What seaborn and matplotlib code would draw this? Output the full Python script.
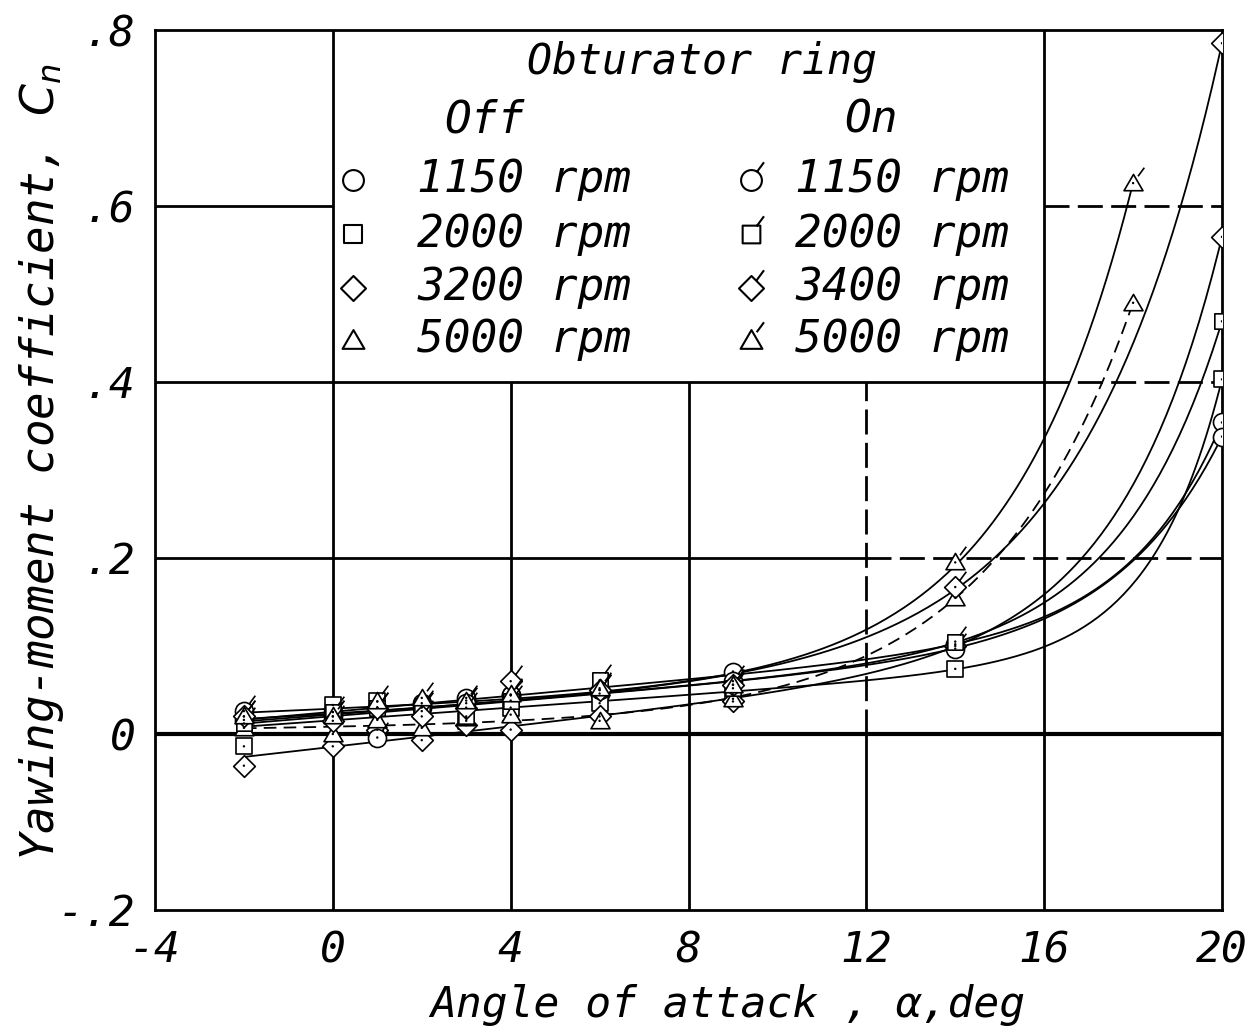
import numpy as np
import seaborn as sns
import matplotlib.pyplot as plt
from matplotlib.path import Path

# angle of attack, deg (5000 rpm runs stop at 18 deg)
alpha = [-2, 0, 1, 2, 3, 4, 6, 9, 14, 20]
alpha_5000 = [-2, 0, 1, 2, 3, 4, 6, 9, 14, 18]

# yawing-moment coefficient, obturator ring off
cn_off_1150 = [0.016, 0.025, 0.030, 0.035, 0.041, 0.044, 0.046, 0.071, 0.102, 0.354]
cn_off_2000 = [-0.014, 0.033, 0.037, 0.026, 0.015, 0.030, 0.035, 0.045, 0.074, 0.403]
cn_off_3200 = [-0.036, -0.014, 0.005, -0.007, 0.010, 0.005, 0.020, 0.037, 0.100, 0.565]
cn_off_5000 = [0.007, 0.000, 0.016, 0.007, 0.018, 0.022, 0.015, 0.040, 0.155, 0.490]

# obturator ring on
cn_on_1150 = [0.026, 0.020, -0.004, 0.030, 0.035, 0.044, 0.050, 0.060, 0.097, 0.338]
cn_on_2000 = [0.012, 0.025, 0.030, 0.032, 0.020, 0.038, 0.061, 0.052, 0.105, 0.469]
cn_on_3400 = [0.020, 0.015, 0.030, 0.020, 0.030, 0.060, 0.050, 0.056, 0.167, 0.785]
cn_on_5000 = [0.020, 0.020, 0.037, 0.041, 0.038, 0.045, 0.052, 0.056, 0.195, 0.626]

rpm_labels = ['1150 rpm', '2000 rpm', '3200 rpm', '5000 rpm']
rpm_labels_on = ['1150 rpm', '2000 rpm', '3400 rpm', '5000 rpm']

sns.set_style('white')
# lettering-guide look: evenly spaced oblique letters
plt.rcParams['font.family'] = ['DejaVu Sans Mono']
plt.rcParams['font.style'] = 'italic'
plt.rcParams['mathtext.fontset'] = 'dejavusans'
plt.rcParams['text.color'] = 'black'
plt.rcParams['axes.labelcolor'] = 'black'


# marker shapes (unit = marker "radius")
circle = Path.unit_circle()
square = Path([(-0.85, -0.85), (0.85, -0.85), (0.85, 0.85), (-0.85, 0.85), (0, 0)],
              [Path.MOVETO, Path.LINETO, Path.LINETO, Path.LINETO, Path.CLOSEPOLY])
diamond = Path([(0, -1.2), (1.2, 0), (0, 1.2), (-1.2, 0), (0, 0)],
               [Path.MOVETO, Path.LINETO, Path.LINETO, Path.LINETO, Path.CLOSEPOLY])
triangle = Path([(-1.05, -0.8), (1.05, -0.8), (0, 1.0), (0, 0)],
                [Path.MOVETO, Path.LINETO, Path.LINETO, Path.CLOSEPOLY])


def flagged(base):
    tick = Path([(0.5, 0.8), (1.2, 1.75)], [Path.MOVETO, Path.LINETO])
    return Path.make_compound_path(base, tick)


def marker_area(path, unit):
    # matplotlib rescales custom paths to their largest coordinate
    scale = np.max(np.abs(path.vertices))
    return (2 * unit * scale) ** 2


def faired(x, y):
    # smooth fairing curve like the hand drawn ones: a + b*x + c*exp(x/k)
    x = np.asarray(x, float)
    y = np.asarray(y, float)
    best = None
    for k in np.arange(1.6, 5.0, 0.1):
        A = np.column_stack([np.ones_like(x), x, np.exp((x - 20) / k)])
        coef = np.linalg.lstsq(A, y, rcond=None)[0]
        err = np.sum((A @ coef - y) ** 2)
        if best is None or err < best[0]:
            best = (err, k, coef)
    _, k, coef = best
    xs = np.linspace(x.min(), x.max(), 300)
    ys = coef[0] + coef[1] * xs + coef[2] * np.exp((xs - 20) / k)
    return xs, ys


series = [
    (alpha, cn_off_1150, circle, '-'),
    (alpha, cn_off_2000, square, '-'),
    (alpha, cn_off_3200, diamond, '-'),
    (alpha_5000, cn_off_5000, triangle, (0, (7, 4))),
    (alpha, cn_on_1150, flagged(circle), '-'),
    (alpha, cn_on_2000, flagged(square), '-'),
    (alpha, cn_on_3400, flagged(diamond), '-'),
    (alpha_5000, cn_on_5000, flagged(triangle), '-'),
]

fig = plt.figure(figsize=(12.59, 10.34), dpi=100)
ax = fig.add_axes([155 / 1259, 1 - 910 / 1034, 1067 / 1259, 880 / 1034])
ax.set_xlim(-4, 20)
ax.set_ylim(-0.2, 0.8)

# grid paper lines; the key box hides part of them
grid_kw = dict(color='black', lw=2.0, zorder=1)
dash = (0, (9, 3))
ax.vlines(0, -0.2, 0.8, **grid_kw)
ax.vlines(16, -0.2, 0.8, **grid_kw)
ax.vlines([4, 8], -0.2, 0.4, **grid_kw)
ax.vlines(12, -0.2, 0.0, **grid_kw)
ax.vlines(12, 0.0, 0.4, linestyles=[dash], **grid_kw)
ax.hlines([0.6, 0.4], -4, 0, **grid_kw)
ax.hlines(0.4, 0, 16, **grid_kw)
ax.hlines([0.6, 0.4], 16, 20, linestyles=[dash], **grid_kw)
ax.hlines(0.2, -4, 12, **grid_kw)
ax.hlines(0.2, 12, 20, linestyles=[dash], **grid_kw)
ax.axhline(0, color='black', lw=3.0, zorder=1)

for x, y, path, ls in series:
    xs, ys = faired(x, y)
    sns.lineplot(x=xs, y=ys, color='black', lw=1.3, linestyle=ls, ax=ax,
                 estimator=None, sort=False, legend=False, zorder=3)
    sns.scatterplot(x=x, y=y, marker=path, s=marker_area(path, 6.5), color='white',
                    edgecolor='black', linewidth=1.2, ax=ax, legend=False, zorder=5)
    sns.scatterplot(x=x, y=y, marker='o', s=3, color='black', edgecolor='none',
                    ax=ax, legend=False, zorder=6)

for side in ['top', 'bottom', 'left', 'right']:
    ax.spines[side].set_color('black')
    ax.spines[side].set_linewidth(2.0)

ax.set_xticks([-4, 0, 4, 8, 12, 16, 20])
ax.set_xticklabels(['-4', '0', '4', '8', '12', '16', '20'])
ax.set_yticks([-0.2, 0, 0.2, 0.4, 0.6, 0.8])
ax.set_yticklabels(['-.2', '0', '.2', '.4', '.6', '.8'])
ax.tick_params(axis='both', length=0, labelsize=31, colors='black')
ax.tick_params(axis='x', pad=14)
ax.tick_params(axis='y', pad=14)

fig.text(728 / 1259, 1 - 1005 / 1034, 'Angle of attack , \u03b1,deg',
         fontsize=31, ha='center', va='center')
fig.text(42 / 1259, 1 - 462 / 1034, 'Yawing-moment coefficient, $C_n$',
         fontsize=33, ha='center', va='center', rotation=90)

# key, drawn inside the box bounded by the grid lines
key_rows = [0.630, 0.568, 0.507, 0.448]
key_size = 32
ax.text(8.3, 0.764, 'Obturator ring', fontsize=30, ha='center', va='center')
ax.text(3.4, 0.698, 'Off', fontsize=key_size, ha='center', va='center')
ax.text(12.1, 0.698, 'On', fontsize=key_size, ha='center', va='center')
for i, row in enumerate(key_rows):
    off_path = series[i][2]
    on_path = series[i + 4][2]
    ax.scatter([0.45], [row], marker=off_path, s=marker_area(off_path, 7.5),
               facecolor='white', edgecolor='black', linewidth=1.5, zorder=6)
    ax.scatter([9.4], [row], marker=on_path, s=marker_area(on_path, 7.5),
               facecolor='white', edgecolor='black', linewidth=1.5, zorder=6)
    ax.text(1.9, row, rpm_labels[i], fontsize=key_size, ha='left', va='center')
    ax.text(10.4, row, rpm_labels_on[i], fontsize=key_size, ha='left', va='center')

plt.savefig('out.png', dpi=100)
